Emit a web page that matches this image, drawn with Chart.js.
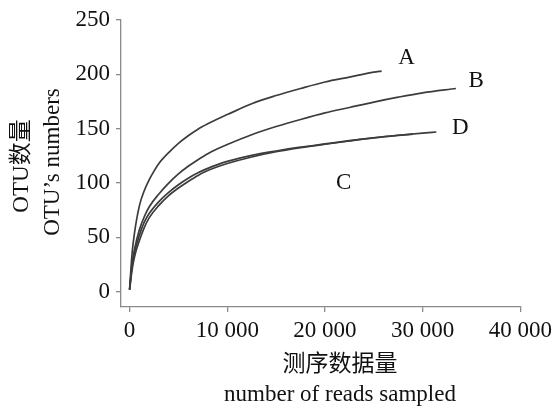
<!DOCTYPE html>
<html>
<head>
<meta charset="utf-8">
<script src="https://cdn.jsdelivr.net/npm/chart.js@4.4.1/dist/chart.umd.min.js"></script>
<style>
  html, body { margin: 0; padding: 0; background: #fff; }
  canvas { display: block; }
</style>
</head>
<body>
<canvas id="myChart" width="557" height="406"></canvas>
<script>
// tick labels
const xTicks = [0, 10000, 20000, 30000, 40000];
const yTicks = [0, 50, 100, 150, 200, 250];

// rarefaction curves: reads sampled -> OTU count
const seriesNames = ['A', 'B', 'C', 'D'];
const readsA = [0, 250, 500, 1000, 1500, 2000, 2500, 3000, 4000, 5000, 6000, 7000, 8000, 9000, 10000, 12500, 15000, 17500, 20000, 22500, 25000, 25800];
const otuA   = [2, 35, 54, 79, 93, 103, 111, 118, 128, 136.5, 143.5, 149.5, 154.5, 159, 163, 173, 180.5, 187, 193, 197.5, 202, 203];
const readsB = [0, 250, 500, 1000, 1500, 2000, 3000, 4000, 5000, 6000, 7000, 8000, 9000, 10000, 12500, 15000, 17500, 20000, 22500, 25000, 27500, 30000, 33400];
const otuB   = [2, 26, 39, 57, 69, 78, 90, 100, 108.5, 115.5, 121.5, 127, 131.5, 135.5, 144.5, 152, 158.5, 164.5, 169.5, 174.5, 179, 183, 187];
const readsC = [0, 250, 500, 1000, 1500, 2000, 3000, 4000, 5000, 6000, 7000, 8000, 9000, 10000, 12500, 15000, 17500, 20000, 22500, 25000, 27500, 29000];
const otuC   = [2, 20, 32, 47, 59, 68, 79.5, 88.5, 95.5, 101.5, 107, 111.5, 115, 118, 124, 128.8, 132.5, 135.7, 138.7, 141.5, 143.8, 145];
const readsD = [0, 250, 500, 1000, 1500, 2000, 3000, 4000, 5000, 6000, 7000, 8000, 9000, 10000, 12500, 15000, 17500, 20000, 22500, 25000, 27500, 30000, 31400];
const otuD   = [2, 23, 36, 52, 64, 72, 83, 91.5, 98.5, 104.5, 109.5, 113.5, 117, 120, 125.5, 129.5, 133, 136, 139, 141.7, 144, 146, 147];

// where the letters sit (data units)
const labelAt = {
  A: [28340, 215],
  B: [35480, 194],
  C: [21900, 100],
  D: [33840, 151]
};

const serif = '"Liberation Serif", "Times New Roman", "Noto Sans CJK SC", serif';
const lineColor = '#3c3c3c';
const axisColor = '#8a8a8a';

function toPoints(xs, ys) {
  return xs.map((x, i) => ({ x: x, y: ys[i] }));
}

function fmt(v) {
  return String(v).replace(/\B(?=(\d{3})+(?!\d))/g, ' ');
}

const curves = [toPoints(readsA, otuA), toPoints(readsB, otuB), toPoints(readsC, otuC), toPoints(readsD, otuD)];

const decor = {
  id: 'decor',
  afterDraw(chart) {
    const c = chart.ctx;
    const xs = chart.scales.x, ys = chart.scales.y;
    c.save();
    c.fillStyle = '#111';
    c.textAlign = 'center';
    c.textBaseline = 'middle';

    // curve letters
    c.font = '23px ' + serif;
    seriesNames.forEach(n => {
      const p = labelAt[n];
      c.fillText(n, xs.getPixelForValue(p[0]), ys.getPixelForValue(p[1]));
    });

    // x title
    c.font = '23px ' + serif;
    c.fillText('测序数据量', 340, 365);
    c.fillText('number of reads sampled', 340, 395);

    // y title
    c.translate(22, 166);
    c.rotate(-Math.PI / 2);
    c.fillText('OTU数量', 0, 0);
    c.rotate(Math.PI / 2);
    c.translate(31, -4);
    c.rotate(-Math.PI / 2);
    c.fillText('OTU\u2019s numbers', 0, 0);
    c.restore();
  }
};

const myChart = new Chart(document.getElementById('myChart'), {
  type: 'scatter',
  data: {
    datasets: curves.map((pts, i) => ({
      label: seriesNames[i],
      data: pts,
      showLine: true,
      borderColor: lineColor,
      borderWidth: 1.7,
      pointRadius: 0,
      tension: 0.4,
      cubicInterpolationMode: 'monotone'
    }))
  },
  options: {
    responsive: false,
    animation: false,
    devicePixelRatio: 1,
    layout: { padding: { left: 0, top: 20, right: 36, bottom: 0 } },
    plugins: {
      legend: { display: false },
      tooltip: { enabled: false }
    },
    scales: {
      x: {
        type: 'linear',
        min: -880,
        max: 40000,
        afterBuildTicks: s => { s.ticks = xTicks.map(v => ({ value: v })); },
        afterFit: s => { s.height = 99; },
        border: { display: true, color: axisColor, width: 1.3 },
        grid: { display: true, drawOnChartArea: false, color: axisColor, tickLength: 5, lineWidth: 1.3 },
        ticks: { color: '#111', font: { family: serif, size: 23 }, padding: 5, maxRotation: 0, callback: v => fmt(v) }
      },
      y: {
        type: 'linear',
        min: -14,
        max: 250,
        afterBuildTicks: s => { s.ticks = yTicks.map(v => ({ value: v })); },
        afterFit: s => { s.width = 121; },
        border: { display: true, color: axisColor, width: 1.3 },
        grid: { display: true, drawOnChartArea: false, color: axisColor, tickLength: 5, lineWidth: 1.3 },
        ticks: { color: '#111', font: { family: serif, size: 23 }, padding: 6 }
      }
    }
  },
  plugins: [decor]
});
</script>
</body>
</html>
